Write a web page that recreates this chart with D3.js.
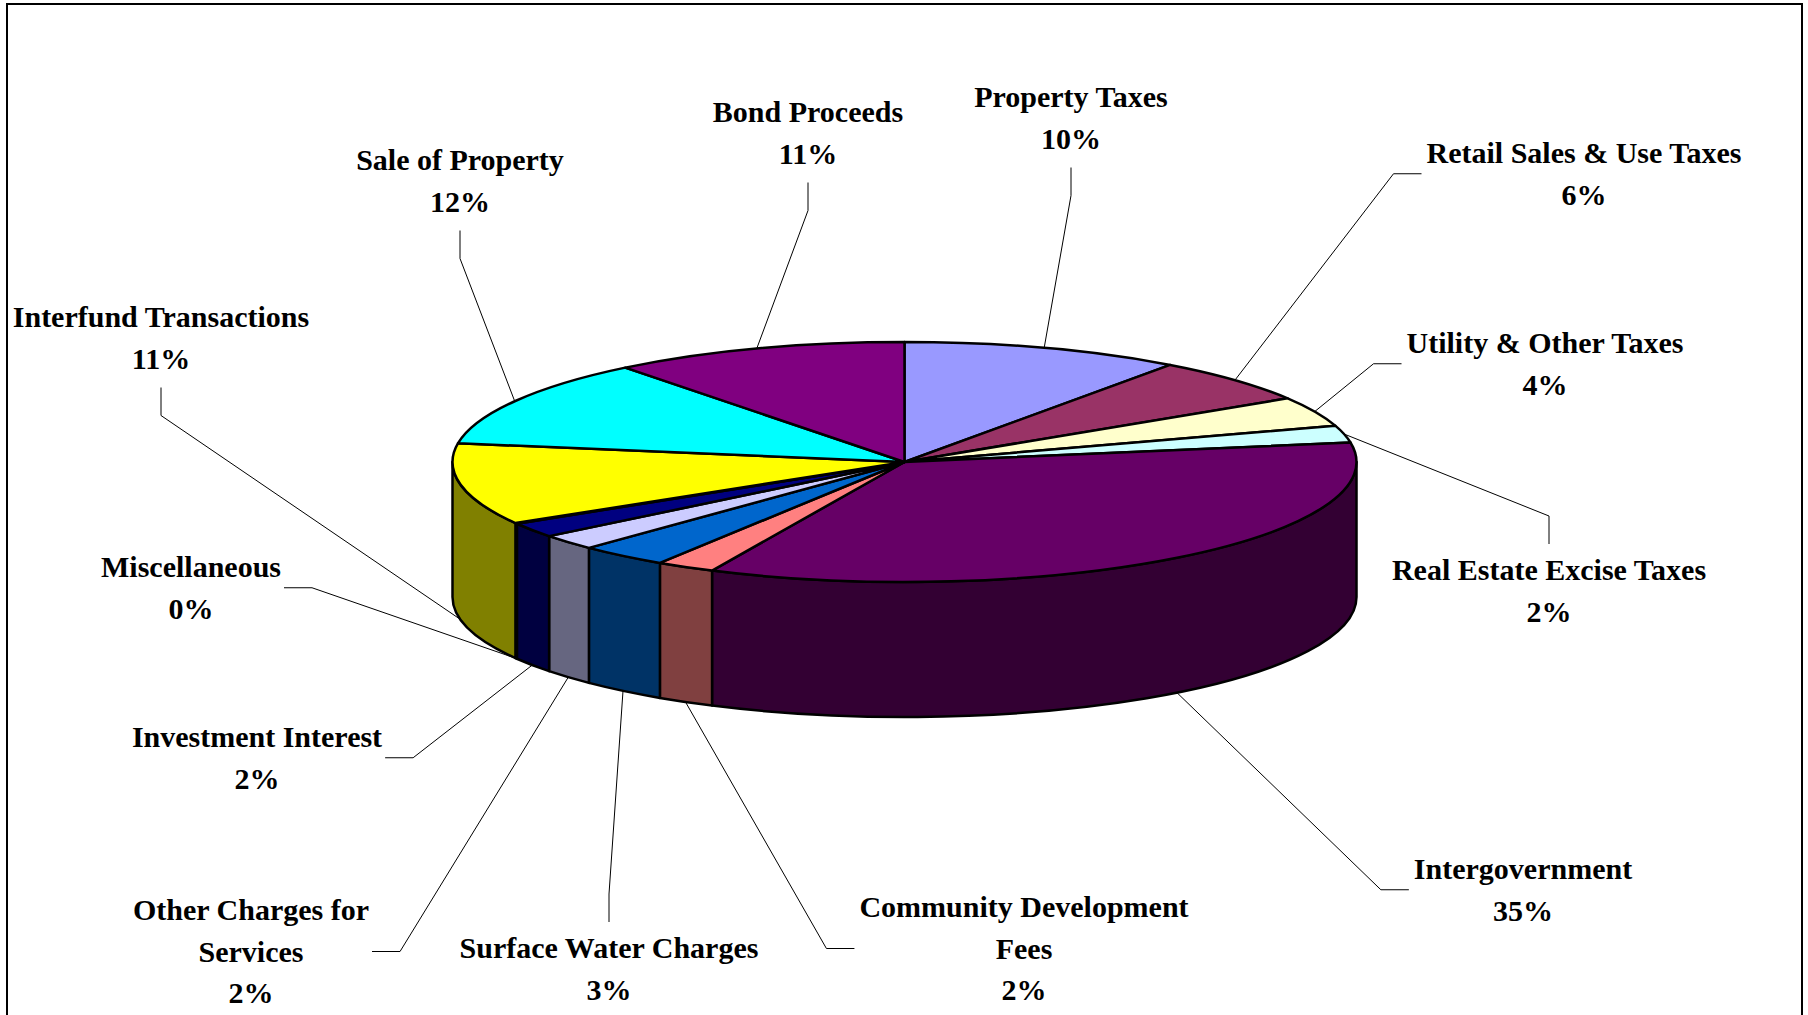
<!DOCTYPE html>
<html>
<head>
<meta charset="utf-8">
<script src="https://cdn.jsdelivr.net/npm/d3@7"></script>
<style>
  body { margin: 0; background: #fff; }
  svg { display: block; }
</style>
</head>
<body>
<svg width="1808" height="1015"></svg>
<script>
// Slices, clockwise from 12 o'clock
const categories = [
  "Property Taxes",
  "Retail Sales & Use Taxes",
  "Utility & Other Taxes",
  "Real Estate Excise Taxes",
  "Intergovernment",
  "Community Development\nFees",
  "Surface Water Charges",
  "Other Charges for\nServices",
  "Investment Interest",
  "Miscellaneous",
  "Interfund Transactions",
  "Sale of Property",
  "Bond Proceeds"
];
const values = [10.0, 6.1, 4.0, 2.3, 34.6, 2.1, 3.2, 2.1, 2.0, 0.1, 11.0, 11.9, 10.6];
const colors = [
  "#9999FF", "#993366", "#FFFFCC", "#CCFFFF", "#660066", "#FF8080",
  "#0066CC", "#CCCCFF", "#000080", "#FF00FF", "#FFFF00", "#00FFFF", "#800080"
];

// label placement: centre x, centre y of first line, which side the leader leaves from
const labelAnchors = [
  [1071, 97, "top"],
  [1584, 153, "right"],
  [1545, 343, "right"],
  [1549, 570, "bottom"],
  [1523, 869, "right"],
  [1024, 907, "right"],
  [609, 948, "bottom"],
  [251, 910, "left"],
  [257, 737, "left"],
  [191, 567, "left"],
  [161, 317, "top"],
  [460, 160, "top"],
  [808, 112, "top"]
];

const svg = d3.select("svg");

// chart frame (bottom edge falls outside the picture)
svg.append("rect")
  .attr("x", 7).attr("y", 4)
  .attr("width", 1795).attr("height", 1100)
  .attr("fill", "#fff")
  .attr("stroke", "#000")
  .attr("stroke-width", 2);

// 3D pie geometry
const cx = 904.5, cy = 462, rx = 452, ry = 120, depth = 135;
const x = d3.scaleLinear().domain([-1, 1]).range([cx - rx, cx + rx]);
const y = d3.scaleLinear().domain([-1, 1]).range([cy - ry, cy + ry]);
const pt = (a, dy = 0) => [x(Math.sin(a)), y(-Math.cos(a)) + dy];

const arcs = d3.pie().sort(null).value((d) => d)(values);
const total = d3.sum(values);
const pct = d3.format(".0%");

function topPath(a0, a1) {
  const p0 = pt(a0), p1 = pt(a1);
  const large = a1 - a0 > Math.PI ? 1 : 0;
  return `M${cx},${cy}L${p0}A${rx},${ry} 0 ${large} 1 ${p1}Z`;
}

function sidePath(a0, a1) {
  const s = Math.max(a0, Math.PI / 2), e = Math.min(a1, 1.5 * Math.PI);
  if (e <= s) return null;
  return `M${pt(s)}A${rx},${ry} 0 0 1 ${pt(e)}L${pt(e, depth)}` +
    `A${rx},${ry} 0 0 0 ${pt(s, depth)}Z`;
}

function darker(c) {
  const r = d3.rgb(c);
  return d3.rgb(r.r / 2, r.g / 2, r.b / 2).formatHex();
}

const pieG = svg.append("g")
  .attr("stroke", "#000")
  .attr("stroke-width", 2.5)
  .attr("stroke-linejoin", "round");

// front wall
pieG.selectAll("path.side")
  .data(arcs.filter((d) => sidePath(d.startAngle, d.endAngle)))
  .enter()
  .append("path")
  .attr("class", "side")
  .attr("d", (d) => sidePath(d.startAngle, d.endAngle))
  .attr("fill", (d) => darker(colors[d.index]));

// top face
pieG.selectAll("path.top")
  .data(arcs)
  .enter()
  .append("path")
  .attr("class", "top")
  .attr("d", (d) => topPath(d.startAngle, d.endAngle))
  .attr("fill", (d) => colors[d.index]);

// labels and leader lines
const lineH = 41.5;
const labG = svg.append("g")
  .attr("font-family", "'Liberation Serif', 'Times New Roman', serif")
  .attr("font-weight", "bold")
  .attr("font-size", 30)
  .attr("text-anchor", "middle")
  .attr("fill", "#000");
const leadG = svg.append("g")
  .attr("fill", "none")
  .attr("stroke", "#000")
  .attr("stroke-width", 1);

arcs.forEach((d, i) => {
  const [lx, ly, side] = labelAnchors[i];
  const lines = categories[i].split("\n").concat(pct(d.value / total));
  const t = labG.append("text");
  lines.forEach((s, j) => {
    t.append("tspan").attr("x", lx).attr("y", ly + j * lineH + 10).text(s);
  });
  const w = d3.max(t.selectAll("tspan").nodes(), (n) => n.getComputedTextLength());
  const lastY = ly + (lines.length - 1) * lineH;
  const midY = (ly + lastY) / 2;

  let p1, p2;
  if (side === "top") {
    p2 = [lx, lastY + 29];
    p1 = [lx, lastY + 57];
  } else if (side === "bottom") {
    p2 = [lx, ly - 26];
    p1 = [lx, ly - 54];
  } else if (side === "right") {
    p2 = [lx - w / 2 - 5, midY];
    p1 = [lx - w / 2 - 33, midY];
  } else {
    p2 = [lx + w / 2 + 3, midY];
    p1 = [lx + w / 2 + 31, midY];
  }
  const mid = (d.startAngle + d.endAngle) / 2;
  const front = Math.cos(mid) < 0;
  const edge = pt(mid, front ? depth : 0);
  leadG.append("path").attr("d", d3.line()([edge, p1, p2]));
});
</script>
</body>
</html>
